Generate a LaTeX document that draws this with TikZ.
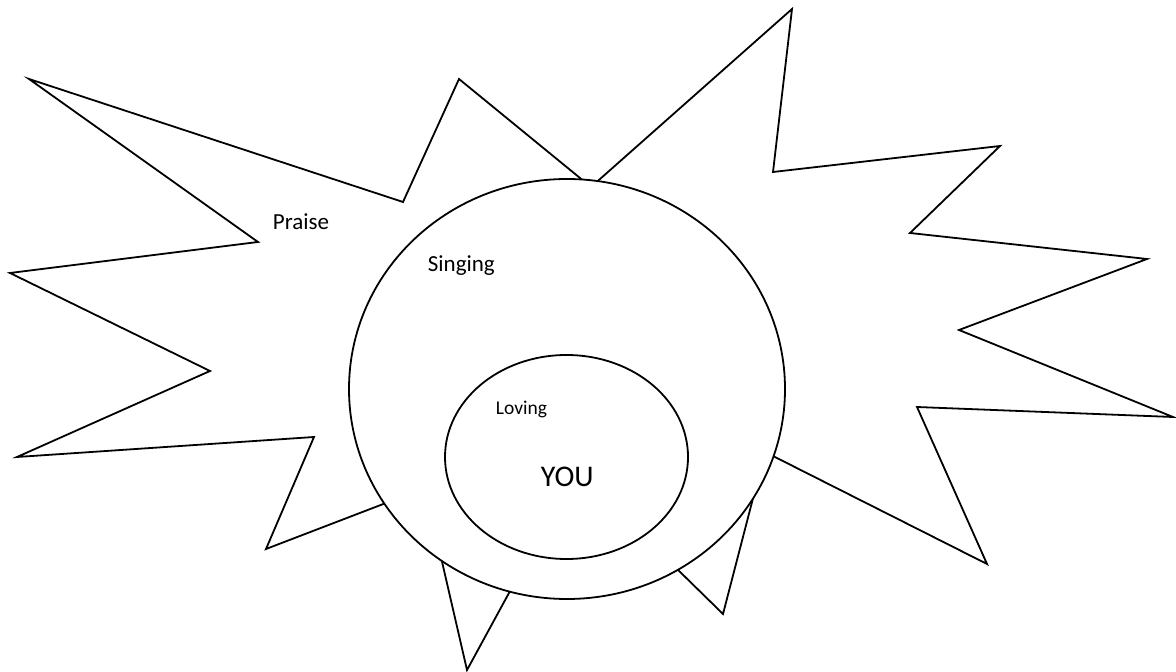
\documentclass[tikz,border=0pt]{standalone}
\usepackage{fontspec}
\setmainfont{Carlito}
\begin{document}
\begin{tikzpicture}[x=0.5pt, y=-0.5pt, line width=0.9pt,
    word/.style={inner sep=0pt, anchor=base west}]
  \useasboundingbox (0,0) rectangle (1176,672);
  % the burst
  \draw (29,79) -- (403,202) -- (459,79) -- (591,187) -- (792,9) -- (773,172)
    -- (1000,146) -- (910,233) -- (1147,259) -- (959,330) -- (1173,417)
    -- (917,407) -- (987,564) -- (765,452) -- (723,614) -- (576,470)
    -- (467,670) -- (425,488) -- (266,549) -- (314,437) -- (17,457)
    -- (210,371) -- (10,273) -- (258,242) -- cycle;
  % the two rings
  \draw[fill=white] (567,389) ellipse (218 and 210);
  \draw[fill=white] (566.5,457) ellipse (121.5 and 102);
  \node[word, font=\fontsize{11.5}{14}\selectfont] (praise) at (272,230) {Praise};
  \node[word, font=\fontsize{11.5}{14}\selectfont] (singing) at (427,272) {Singing};
  \node[word, font=\fontsize{9.75}{12}\selectfont] (loving) at (495,415) {Loving};
  \node[word, font=\fontsize{15}{18}\selectfont] (you) at (540,487) {YOU};
\end{tikzpicture}
\end{document}
